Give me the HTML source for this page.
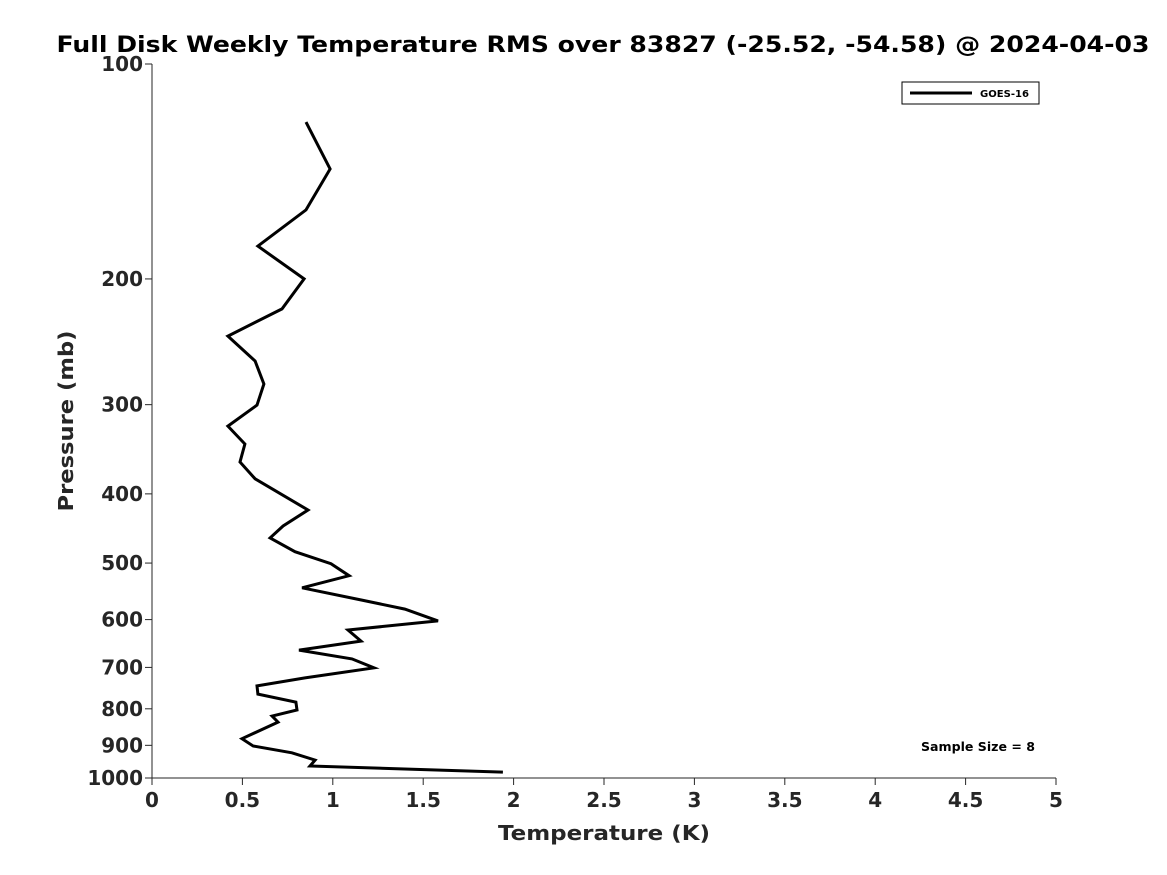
<!DOCTYPE html>
<html><head><meta charset="utf-8"><style>
body{margin:0;background:#fff;}
svg{display:block;font-family:"DejaVu Sans","Liberation Sans",sans-serif;}
</style></head><body>
<svg id="chart" width="1167" height="875">
<text x="603" y="52" text-anchor="middle" font-size="22" font-weight="bold" fill="#000" textLength="1093" lengthAdjust="spacingAndGlyphs">Full Disk Weekly Temperature RMS over 83827 (-25.52, -54.58) @ 2024-04-03</text>
<g id="axes"></g>
<text x="604" y="840" text-anchor="middle" font-size="20" font-weight="bold" fill="#262626" textLength="212" lengthAdjust="spacingAndGlyphs">Temperature (K)</text>
<text transform="translate(73,421) rotate(-90)" text-anchor="middle" font-size="20" font-weight="bold" fill="#262626" textLength="181" lengthAdjust="spacingAndGlyphs">Pressure (mb)</text>
<g>
<rect x="902" y="82" width="137" height="22" fill="#fff" stroke="#000" stroke-width="1"/>
<line x1="910" y1="93" x2="972" y2="93" stroke="#000" stroke-width="3"/>
<text x="1029" y="97" text-anchor="end" font-size="10" font-weight="bold" textLength="49" lengthAdjust="spacingAndGlyphs">GOES-16</text>
</g>
<text x="1035" y="751" text-anchor="end" font-size="12" font-weight="bold" textLength="114" lengthAdjust="spacingAndGlyphs">Sample Size = 8</text>
<path id="series" fill="none" stroke="#000" stroke-width="3" stroke-linejoin="miter"/>
</svg>
<script>
const temps = [0.852,0.985,0.852,0.586,0.841,0.719,0.420,0.570,0.619,0.581,0.420,0.514,0.487,0.570,0.863,0.725,0.653,0.791,0.990,1.090,0.830,1.161,1.399,1.582,1.084,1.156,0.813,1.106,1.228,0.846,0.581,0.586,0.796,0.802,0.664,0.697,0.498,0.559,0.774,0.902,0.874,1.941];
const pressures = [120.6,140.3,160.1,179.9,200,220.3,240.5,260.6,280.7,300.4,321.5,340.6,360.9,381,421.4,443.6,461,482,501,520.8,541.6,563.4,580,602.6,620.5,643,662,681,701,724,743,763,783,803,819,835,881,902,922,944,962,981];
const xTicks = [0,0.5,1,1.5,2,2.5,3,3.5,4,4.5,5];
const yTicks = [100,200,300,400,500,600,700,800,900,1000];
const X0=152,X1=1056,Y0=64,Y1=778;
const xs=t=>X0+(t/5)*(X1-X0);
const ys=p=>Y0+(Math.log10(p)-2)*(Y1-Y0);
const NS="http://www.w3.org/2000/svg";
const ax=document.getElementById('axes');
function mk(tag,attrs){const e=document.createElementNS(NS,tag);for(const k in attrs)e.setAttribute(k,attrs[k]);return e;}
const yl=mk('line',{x1:X0,y1:Y0,x2:X0,y2:Y1,stroke:'#262626','stroke-width':1});


ax.appendChild(yl);
const xl=mk('line',{x1:X0,y1:Y1,x2:X1,y2:Y1,stroke:'#262626','stroke-width':1});


ax.appendChild(xl);
xTicks.forEach(t=>{
 const x=xs(t);
 const l=mk('line',{x1:x,y1:Y1,x2:x,y2:Y1+7,stroke:'#262626','stroke-width':1});
 
 
 ax.appendChild(l);
 const tx=mk('text',{x:x,y:Y1+29,'text-anchor':'middle','font-size':20,'font-weight':'bold',fill:'#262626'});
 tx.textContent=String(t);
 
 
 ax.appendChild(tx);
});
yTicks.forEach(p=>{
 const y=ys(p);
 const l=mk('line',{x1:X0-7,y1:y,x2:X0,y2:y,stroke:'#262626','stroke-width':1});
 
 
 ax.appendChild(l);
 const tx=mk('text',{x:X0-9,y:y+7,'text-anchor':'end','font-size':20,'font-weight':'bold',fill:'#262626'});
 tx.textContent=String(p);
 
 
 ax.appendChild(tx);
});
document.getElementById('series').setAttribute('d',temps.map((t,i)=>(i?'L':'M')+xs(t).toFixed(1)+','+ys(pressures[i]).toFixed(1)).join(''));
</script>
</body></html>
